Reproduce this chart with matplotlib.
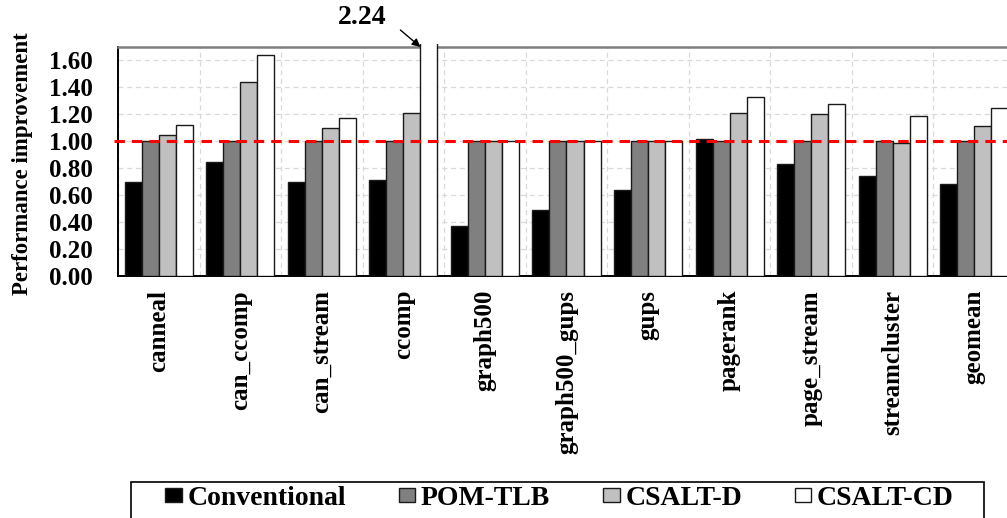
import numpy as np
import matplotlib.pyplot as plt
import matplotlib.transforms as mtransforms
from matplotlib.patches import Rectangle

plt.rcParams['font.family'] = ['Liberation Serif', 'DejaVu Serif']
plt.rcParams['font.weight'] = 'bold'

# normalized performance per workload
workloads = ['canneal', 'can_ccomp', 'can_stream', 'ccomp', 'graph500',
             'graph500_gups', 'gups', 'pagerank', 'page_stream',
             'streamcluster', 'geomean']
conventional = [0.70, 0.85, 0.70, 0.71, 0.37, 0.49, 0.64, 1.02, 0.83, 0.74, 0.68]
pom_tlb = [1.00, 1.00, 1.00, 1.00, 1.00, 1.00, 1.00, 1.00, 1.00, 1.00, 1.00]
csalt_d = [1.05, 1.44, 1.10, 1.21, 1.00, 1.00, 1.00, 1.21, 1.20, 0.99, 1.11]
csalt_cd = [1.12, 1.64, 1.17, 2.24, 1.00, 1.00, 1.00, 1.33, 1.28, 1.19, 1.25]

series = [('Conventional', conventional, '#000000'),
          ('POM-TLB', pom_tlb, '#808080'),
          ('CSALT-D', csalt_d, '#C0C0C0'),
          ('CSALT-CD', csalt_cd, '#FFFFFF')]

fig = plt.figure(figsize=(10.07, 5.18), dpi=100)
ax = fig.add_axes([118 / 1007, 1 - 276 / 518, 897 / 1007, 229 / 518])

x = np.arange(len(workloads))
bw = 0.2085
bars = []
for k, (name, vals, col) in enumerate(series):
    b = ax.bar(x + (k - 1.5) * bw, vals, bw, color=col, edgecolor='#1a1a1a',
               linewidth=1.0, label=name, zorder=3)
    bars.append(b)

ax.set_ylim(0, 1.70)
ax.set_xlim(-0.5, len(workloads) - 0.5)

# the tall bar runs through the top frame
tall = bars[3][3]
tall.set_clip_box(mtransforms.TransformedBbox(
    mtransforms.Bbox([[0, 0], [1, 1.012]]), ax.transAxes))

# baseline
ax.axhline(1.0, xmin=-0.004, color='#FF0000', linewidth=2.2,
           dashes=(3.4, 2.3), zorder=4, clip_on=False)

ax.set_yticks(np.arange(0, 1.61, 0.2))
ax.set_yticklabels(['%.2f' % v for v in np.arange(0, 1.61, 0.2)])
ax.set_xticks(x)
ax.set_xticklabels(workloads, rotation=90)
ax.set_xticks(np.arange(-0.5, len(workloads), 1.0), minor=True)
ax.tick_params(axis='y', length=0, pad=18, labelsize=18)
ax.tick_params(axis='x', which='both', length=0, pad=10, labelsize=18)
for lab in ax.get_xticklabels() + ax.get_yticklabels():
    lab.set_fontweight('bold')

ax.grid(axis='y', which='major', color='#D9D9D9', linestyle=(0, (4, 3)),
        linewidth=0.9, zorder=0)
ax.grid(axis='x', which='minor', color='#D9D9D9', linestyle=(0, (4, 3)),
        linewidth=0.9, zorder=0)
ax.set_axisbelow(True)

ax.spines['top'].set_color('#7f7f7f')
ax.spines['top'].set_linewidth(1.8)
ax.spines['left'].set_color('#000000')
ax.spines['left'].set_linewidth(1.4)
ax.spines['bottom'].set_color('#000000')
ax.spines['bottom'].set_linewidth(1.4)
ax.spines['right'].set_visible(False)

ax.set_ylabel('Performance improvement', fontsize=16.5, fontweight='bold')
ax.yaxis.set_label_coords(-0.095, 0.49)

# value of the clipped bar
tip_x = tall.get_x()
ax.annotate('', xy=(tip_x, 1.70), xytext=(-20, 17), textcoords='offset pixels',
            arrowprops=dict(arrowstyle='-|>', color='black', lw=1.0,
                            mutation_scale=12, shrinkA=0, shrinkB=0),
            annotation_clip=False)
ax.annotate('2.24', xy=(tip_x, 1.70), xytext=(-58, 29),
            textcoords='offset pixels', ha='center', va='center',
            fontsize=20, fontweight='bold', annotation_clip=False)

leg = fig.legend(handles=bars, labels=[s[0] for s in series], ncol=4,
                 loc='center', bbox_to_anchor=(0.5556, 0.038),
                 bbox_transform=fig.transFigure, frameon=False,
                 prop={'size': 20, 'weight': 'bold'},
                 handlelength=0.6, handleheight=0.4, handletextpad=0.2,
                 columnspacing=1.9)

fig.patches.append(Rectangle((131 / 1007, -0.02), (984 - 131) / 1007,
                             0.0695 + 0.02, transform=fig.transFigure,
                             fill=False, edgecolor='black', linewidth=1.2))

fig.savefig('out.png', dpi=100)
